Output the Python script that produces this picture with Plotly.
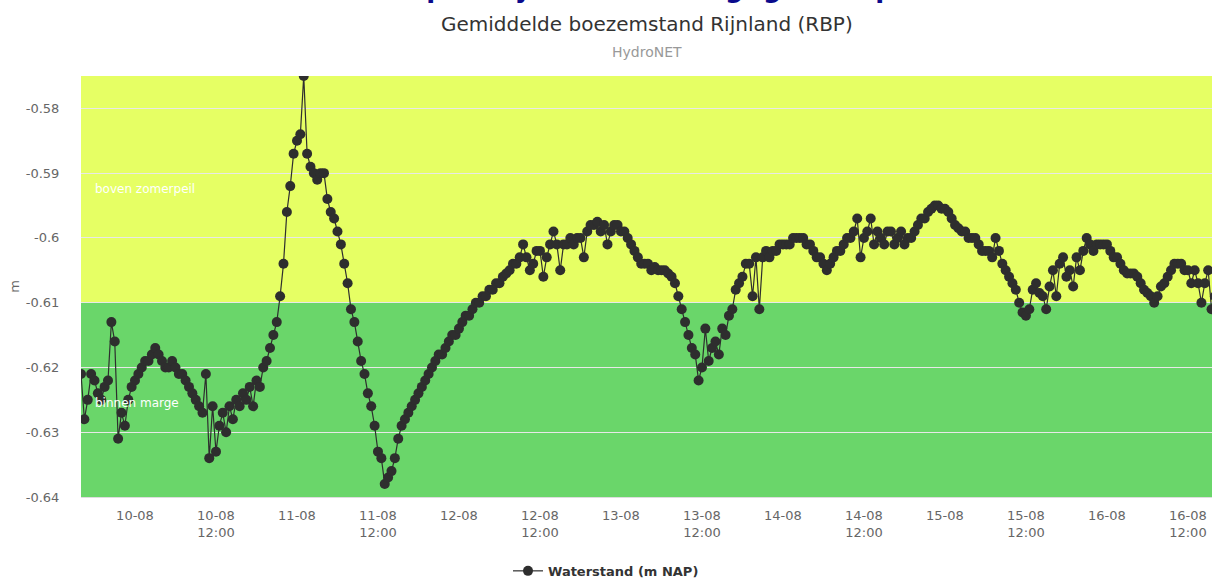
import pandas as pd
import plotly.graph_objects as go

# ---- data (half-hourly readings, m NAP) ----
start_time = "2023-08-09 16:00"
waterstand = [
    -0.621, -0.628, -0.625, -0.621, -0.622, -0.624, -0.625, -0.623,   # 09-08 16:00-19:30
    -0.622, -0.613, -0.616, -0.631, -0.627, -0.629, -0.625, -0.623,   # 20:00-23:30
    -0.622, -0.621, -0.620, -0.619, -0.619, -0.618, -0.617, -0.618,   # 10-08 00:00-03:30
    -0.619, -0.620, -0.620, -0.619, -0.620, -0.621, -0.621, -0.622,   # 04:00-07:30
    -0.623, -0.624, -0.625, -0.626, -0.627, -0.621, -0.634, -0.626,   # 08:00-11:30
    -0.633, -0.629, -0.627, -0.630, -0.626, -0.628, -0.625, -0.626,   # 12:00-15:30
    -0.624, -0.625, -0.623, -0.626, -0.622, -0.623, -0.620, -0.619,   # 16:00-19:30
    -0.617, -0.615, -0.613, -0.609, -0.604, -0.596, -0.592, -0.587,   # 20:00-23:30
    -0.585, -0.584, -0.575, -0.587, -0.589, -0.590, -0.591, -0.590,   # 11-08 00:00-03:30
    -0.590, -0.594, -0.596, -0.597, -0.599, -0.601, -0.604, -0.607,   # 04:00-07:30
    -0.611, -0.613, -0.616, -0.619, -0.621, -0.624, -0.626, -0.629,   # 08:00-11:30
    -0.633, -0.634, -0.638, -0.637, -0.636, -0.634, -0.631, -0.629,   # 12:00-15:30
    -0.628, -0.627, -0.626, -0.625, -0.624, -0.623, -0.622, -0.621,   # 16:00-19:30
    -0.620, -0.619, -0.618, -0.618, -0.617, -0.616, -0.615, -0.615,   # 20:00-23:30
    -0.614, -0.613, -0.612, -0.612, -0.611, -0.610, -0.610, -0.609,   # 12-08 00:00-03:30
    -0.609, -0.608, -0.608, -0.607, -0.607, -0.606, -0.6055, -0.605,  # 04:00-07:30
    -0.604, -0.604, -0.603, -0.601, -0.603, -0.605, -0.604, -0.602,   # 08:00-11:30
    -0.602, -0.606, -0.603, -0.601, -0.599, -0.601, -0.605, -0.601,   # 12:00-15:30
    -0.601, -0.600, -0.601, -0.600, -0.600, -0.603, -0.599, -0.598,   # 16:00-19:30
    -0.598, -0.5975, -0.599, -0.598, -0.601, -0.599, -0.598, -0.598,  # 20:00-23:30
    -0.599, -0.599, -0.600, -0.601, -0.602, -0.603, -0.604, -0.604,   # 13-08 00:00-03:30
    -0.604, -0.605, -0.6045, -0.605, -0.605, -0.605, -0.6055, -0.606, # 04:00-07:30
    -0.607, -0.609, -0.611, -0.613, -0.615, -0.617, -0.618, -0.622,   # 08:00-11:30
    -0.620, -0.614, -0.619, -0.617, -0.616, -0.618, -0.614, -0.615,   # 12:00-15:30
    -0.612, -0.611, -0.608, -0.607, -0.606, -0.604, -0.604, -0.609,   # 16:00-19:30
    -0.603, -0.611, -0.603, -0.602, -0.603, -0.602, -0.602, -0.601,   # 20:00-23:30
    -0.601, -0.601, -0.601, -0.600, -0.600, -0.600, -0.600, -0.601,   # 14-08 00:00-03:30
    -0.601, -0.602, -0.603, -0.603, -0.604, -0.605, -0.604, -0.603,   # 04:00-07:30
    -0.602, -0.602, -0.601, -0.600, -0.600, -0.599, -0.597, -0.603,   # 08:00-11:30
    -0.600, -0.599, -0.597, -0.601, -0.599, -0.600, -0.601, -0.599,   # 12:00-15:30
    -0.599, -0.601, -0.600, -0.599, -0.601, -0.600, -0.600, -0.599,   # 16:00-19:30
    -0.598, -0.597, -0.597, -0.596, -0.5955, -0.595, -0.595, -0.5955, # 20:00-23:30
    -0.5955, -0.596, -0.597, -0.598, -0.5985, -0.599, -0.599, -0.600, # 15-08 00:00-03:30
    -0.600, -0.600, -0.601, -0.602, -0.602, -0.602, -0.603, -0.600,   # 04:00-07:30
    -0.602, -0.604, -0.605, -0.606, -0.607, -0.608, -0.610, -0.6115,  # 08:00-11:30
    -0.612, -0.611, -0.608, -0.607, -0.6085, -0.609, -0.611, -0.6075, # 12:00-15:30
    -0.605, -0.609, -0.604, -0.603, -0.606, -0.605, -0.6075, -0.603,  # 16:00-19:30
    -0.605, -0.602, -0.600, -0.601, -0.602, -0.601, -0.601, -0.601,   # 20:00-23:30
    -0.601, -0.602, -0.603, -0.603, -0.604, -0.605, -0.6055, -0.6055, # 16-08 00:00-03:30
    -0.6055, -0.606, -0.607, -0.608, -0.6085, -0.609, -0.610, -0.609, # 04:00-07:30
    -0.6075, -0.607, -0.606, -0.605, -0.604, -0.604, -0.604, -0.605,  # 08:00-11:30
    -0.605, -0.607, -0.605, -0.607, -0.610, -0.607, -0.605, -0.611,   # 12:00-15:30
    -0.609,                                                           # 16:00
]
times = pd.date_range(start_time, periods=len(waterstand), freq="30min")

x_tickvals = [
    "2023-08-10 00:00", "2023-08-10 12:00", "2023-08-11 00:00", "2023-08-11 12:00",
    "2023-08-12 00:00", "2023-08-12 12:00", "2023-08-13 00:00", "2023-08-13 12:00",
    "2023-08-14 00:00", "2023-08-14 12:00", "2023-08-15 00:00", "2023-08-15 12:00",
    "2023-08-16 00:00", "2023-08-16 12:00",
]
x_ticktext = [
    "10-08", "10-08<br>12:00", "11-08", "11-08<br>12:00", "12-08", "12-08<br>12:00",
    "13-08", "13-08<br>12:00", "14-08", "14-08<br>12:00", "15-08", "15-08<br>12:00",
    "16-08", "16-08<br>12:00",
]
x_range = ["2023-08-09 16:00", "2023-08-16 15:34"]

y_tickvals = [-0.64, -0.63, -0.62, -0.61, -0.60, -0.59, -0.58]
y_ticktext = ["-0.64", "-0.63", "-0.62", "-0.61", "-0.6", "-0.59", "-0.58"]
y_range = [-0.64, -0.575]

band_limits = [-0.64, -0.61, -0.575]
band_colors = ["#6ad66a", "#e6ff64"]
band_labels = ["binnen marge", "boven zomerpeil"]
band_label_values = [-0.6255, -0.5925]

FONT = "DejaVu Sans"

fig = go.Figure()
fig.add_trace(go.Scatter(
    x=times, y=waterstand, mode="lines+markers",
    name="<b>Waterstand (m NAP)</b>",
    line=dict(color="#2e2e2e", width=1.2),
    marker=dict(color="#2e2e2e", size=10),
))

for i, col in enumerate(band_colors):
    fig.add_shape(type="rect", xref="paper", yref="y", x0=0, x1=1,
                  y0=band_limits[i], y1=band_limits[i + 1],
                  fillcolor=col, line=dict(width=0), layer="below")

for lbl, yv in zip(band_labels, band_label_values):
    fig.add_annotation(xref="paper", yref="y", x=0.011, y=yv, text=lbl,
                       showarrow=False, xanchor="left", yanchor="middle",
                       font=dict(family=FONT, size=12, color="white"))

# titles
fig.add_annotation(xref="paper", yref="paper", x=0.5, y=1.21,
                   text="<b>Boezempeil Rijnland vandaag: grafiek per uur</b>",
                   showarrow=False, xanchor="center", yanchor="middle",
                   font=dict(family=FONT, size=26, color="#0a0a8c"))
fig.add_annotation(xref="paper", yref="paper", x=0.5, y=1.123,
                   text="Gemiddelde boezemstand Rijnland (RBP)",
                   showarrow=False, xanchor="center", yanchor="middle",
                   font=dict(family=FONT, size=20, color="#333333"))
fig.add_annotation(xref="paper", yref="paper", x=0.5, y=1.057, text="HydroNET",
                   showarrow=False, xanchor="center", yanchor="middle",
                   font=dict(family=FONT, size=14, color="#999999"))
fig.add_annotation(xref="paper", yref="paper", x=-0.059, y=0.5, text="m",
                   showarrow=False, textangle=-90, xanchor="center", yanchor="middle",
                   font=dict(family=FONT, size=13, color="#666666"))

fig.update_layout(
    width=1212, height=579,
    margin=dict(l=81, r=0, t=76, b=82),
    paper_bgcolor="white", plot_bgcolor="white",
    font=dict(family=FONT, color="#666666"),
    showlegend=True,
    legend=dict(orientation="h", xref="container", yref="container",
                x=0.5, xanchor="center", y=0.014, yanchor="middle",
                font=dict(family=FONT, size=13, color="#333333"), itemwidth=30),
)
fig.update_xaxes(
    type="date", range=x_range, tickvals=x_tickvals, ticktext=x_ticktext,
    showgrid=False, zeroline=False, showline=True, linecolor="#dddddd",
    ticks="outside", ticklen=6, tickcolor="rgba(0,0,0,0)",
    tickfont=dict(family=FONT, size=13, color="#666666"),
)
fig.update_yaxes(
    range=y_range, tickvals=y_tickvals, ticktext=y_ticktext,
    showgrid=True, gridcolor="#e8e8e8", gridwidth=1, zeroline=False,
    ticks="outside", ticklen=18, tickcolor="rgba(0,0,0,0)",
    tickfont=dict(family=FONT, size=13, color="#666666"),
)

fig.write_html("out.html", config={"displayModeBar": False},
               post_script="document.body.style.margin='0';document.body.style.overflow='hidden';")
